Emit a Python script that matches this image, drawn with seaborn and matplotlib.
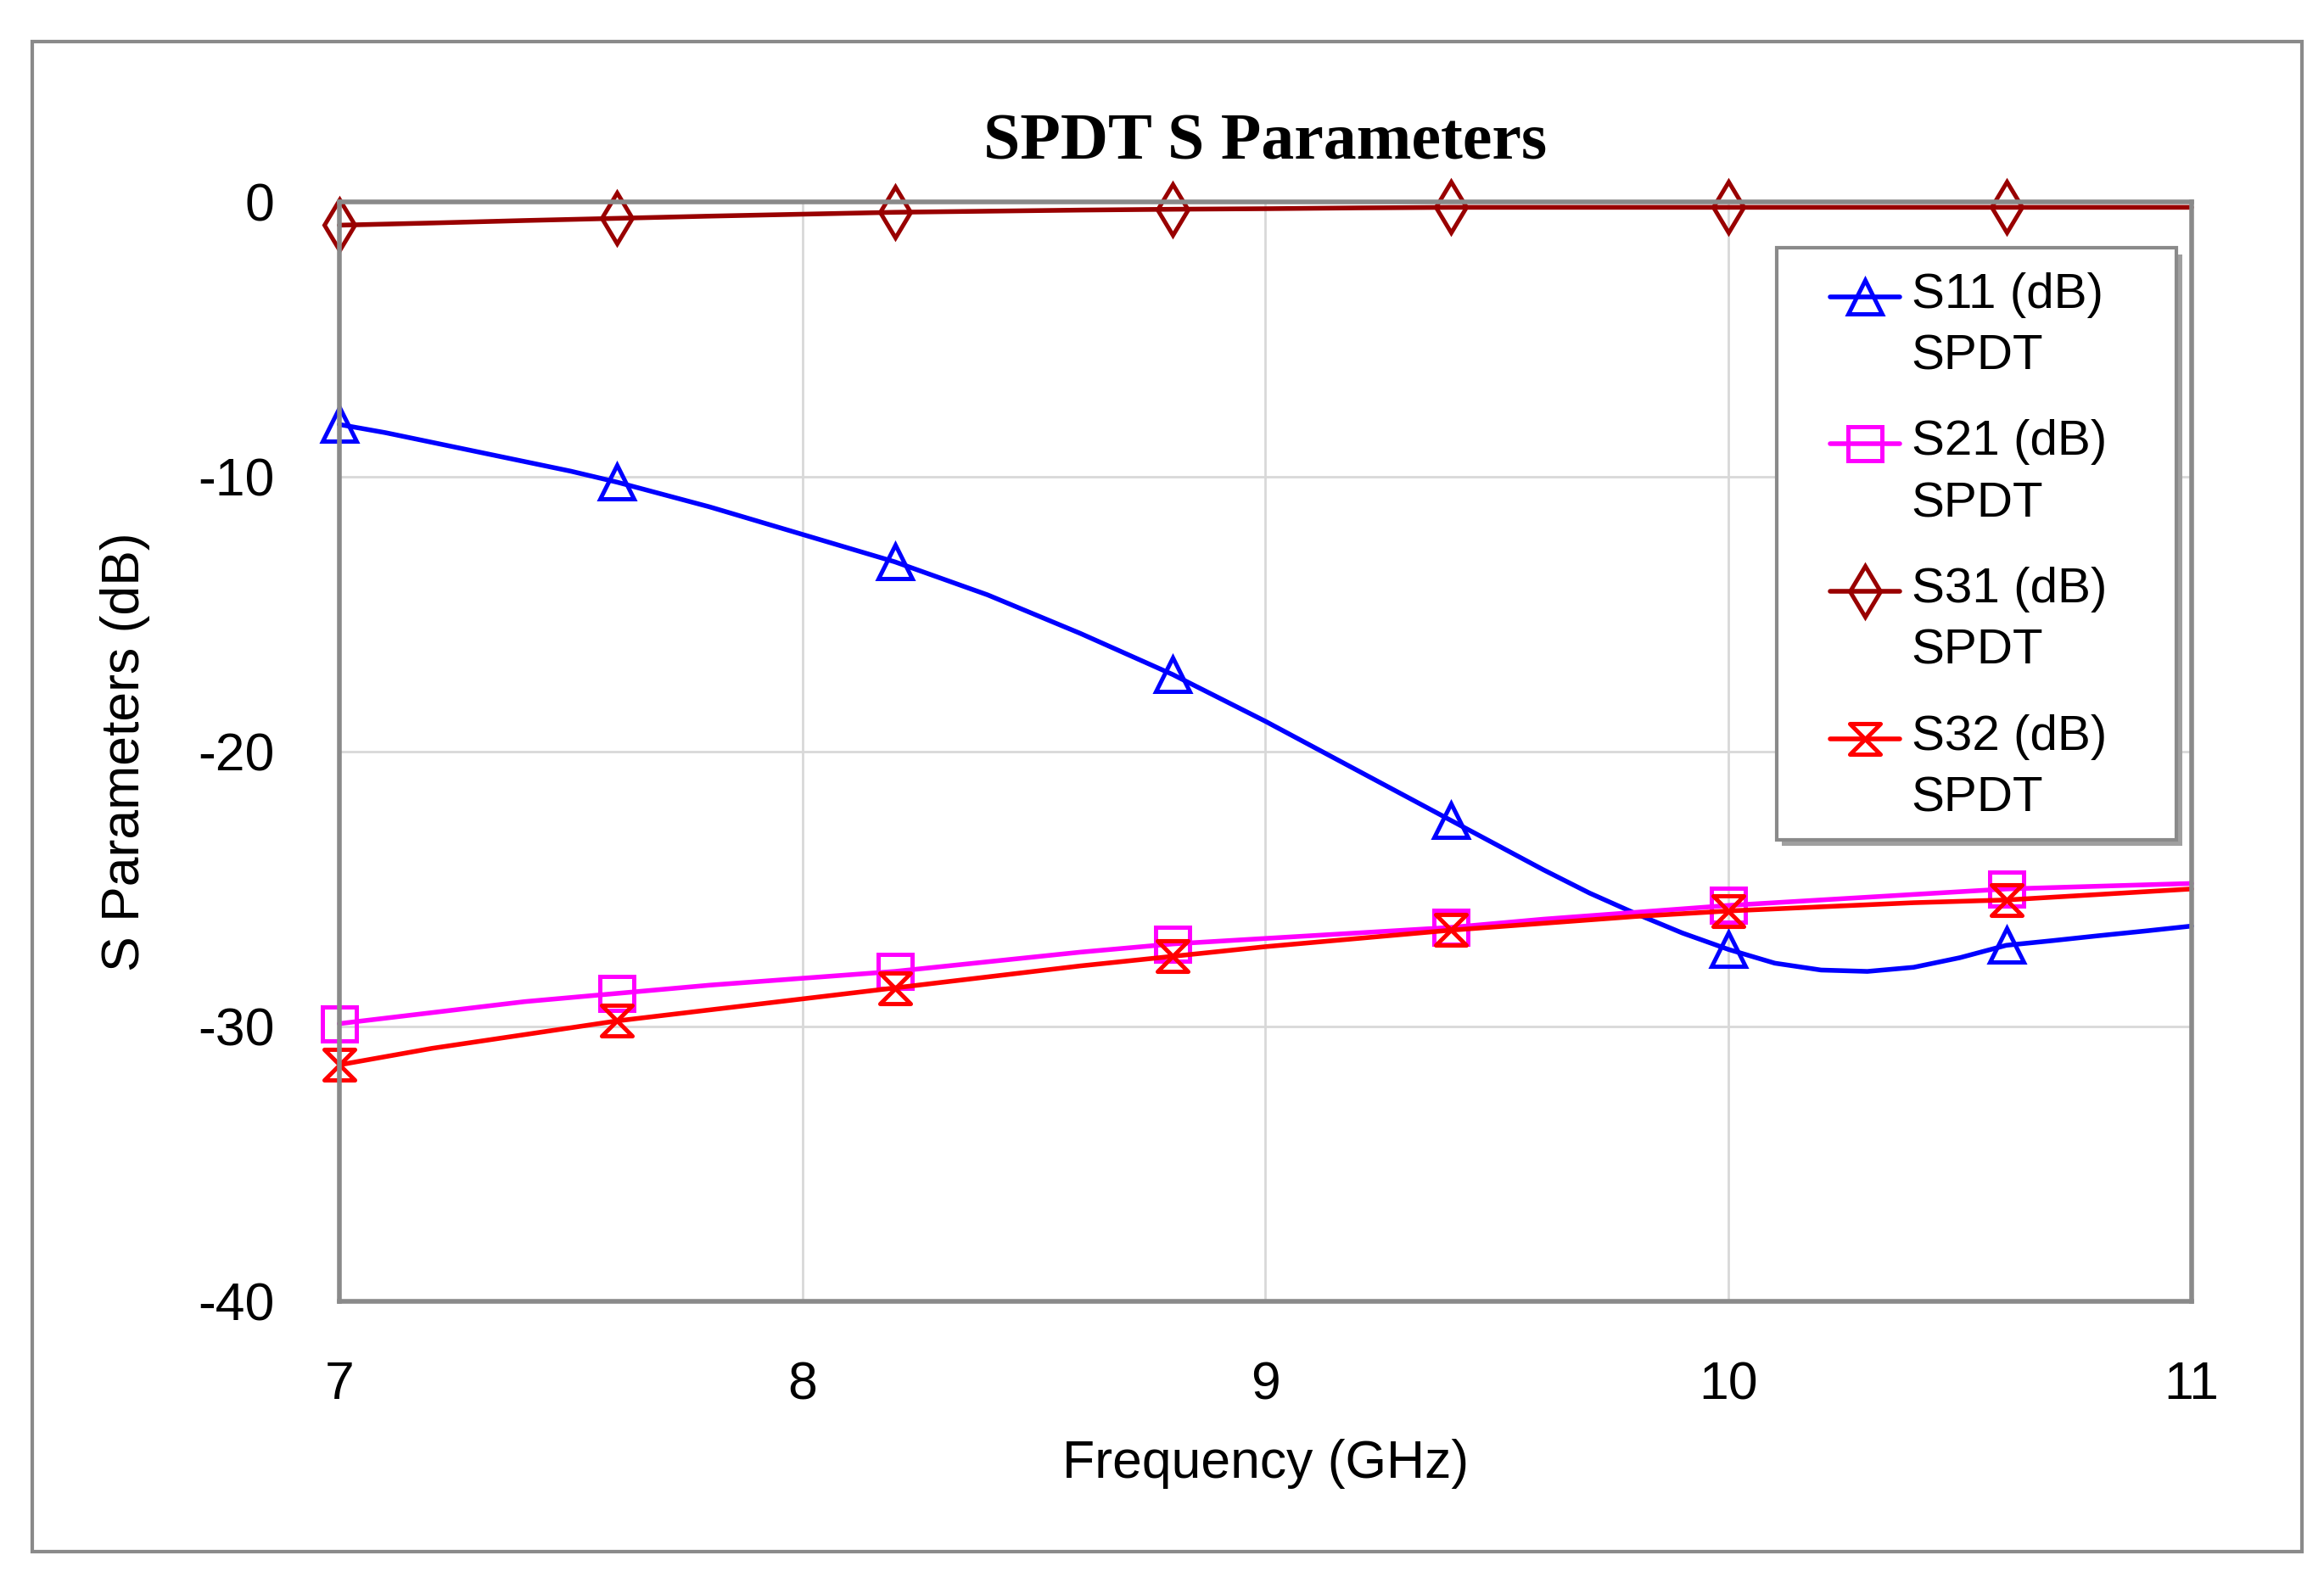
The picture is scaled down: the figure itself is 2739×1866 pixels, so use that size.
import numpy as np
import pandas as pd
import matplotlib
matplotlib.use('Agg')
import matplotlib.pyplot as plt
import seaborn as sns
from matplotlib.path import Path
from matplotlib.patches import Rectangle
from matplotlib.legend_handler import HandlerLine2D

sns.set_style("white")
plt.rcParams['font.family'] = ['Liberation Sans', 'DejaVu Sans']
plt.rcParams['axes.unicode_minus'] = False
plt.rcParams['text.color'] = 'black'
plt.rcParams['axes.labelcolor'] = 'black'

# ---------------------------------------------------------------------------
# Data
# ---------------------------------------------------------------------------
freq_fine = [7.0, 7.1, 7.2, 7.3, 7.4, 7.5, 7.6, 7.7, 7.8, 7.9, 8.0,
             8.1, 8.2, 8.3, 8.4, 8.5, 8.6, 8.7, 8.8, 8.9, 9.0,
             9.1, 9.2, 9.3, 9.4, 9.5, 9.6, 9.7, 9.8, 9.9, 10.0,
             10.1, 10.2, 10.3, 10.4, 10.5, 10.6, 10.7, 10.8, 10.9, 11.0]
s11 = [-8.1, -8.4, -8.75, -9.1, -9.45, -9.8, -10.2, -10.65, -11.1, -11.6, -12.1,
       -12.6, -13.1, -13.7, -14.3, -15.0, -15.7, -16.45, -17.2, -18.05, -18.9,
       -19.8, -20.7, -21.6, -22.5, -23.4, -24.3, -25.15, -25.9, -26.6, -27.2,
       -27.7, -27.95, -28.0, -27.85, -27.5, -27.05, -26.88, -26.7, -26.53, -26.35]

freq = [7.0, 7.2, 7.4, 7.6, 7.8, 8.0, 8.2, 8.4, 8.6, 8.8, 9.0,
        9.2, 9.4, 9.6, 9.8, 10.0, 10.2, 10.4, 10.6, 10.8, 11.0]
s21 = [-29.9, -29.5, -29.1, -28.8, -28.5, -28.25, -28.0, -27.65, -27.3, -27.0, -26.8,
       -26.6, -26.4, -26.1, -25.85, -25.6, -25.4, -25.2, -25.0, -24.9, -24.8]
s31 = [-0.85, -0.77, -0.68, -0.6, -0.52, -0.45, -0.38, -0.34, -0.3, -0.27, -0.25,
       -0.22, -0.2, -0.2, -0.2, -0.2, -0.2, -0.2, -0.2, -0.2, -0.2]
s32 = [-31.4, -30.8, -30.3, -29.8, -29.4, -29.0, -28.6, -28.2, -27.8, -27.45, -27.1,
       -26.8, -26.5, -26.25, -26.0, -25.8, -25.65, -25.5, -25.4, -25.2, -25.0]

series_labels = ['S11 (dB)\nSPDT', 'S21 (dB)\nSPDT', 'S31 (dB)\nSPDT', 'S32 (dB)\nSPDT']
x_ticks = [7, 8, 9, 10, 11]
y_ticks = [0, -10, -20, -30, -40]

# hourglass marker for S32
hourglass = Path([(-1, 1), (1, 1), (-1, -1), (1, -1), (-1, 1)],
                 [Path.MOVETO, Path.LINETO, Path.LINETO, Path.LINETO, Path.CLOSEPOLY])

# (x, y, colour, marker, markersize, markevery)
styles = [
    (freq_fine, s11, '#0000FF', '^', 29, 6),
    (freq, s21, '#FF00FF', 's', 29, 3),
    (freq, s31, '#990000', 'd', 31, 3),
    (freq, s32, '#FF0000', hourglass, 26, 3),
]


class TopHandler(HandlerLine2D):
    """Line handle aligned with the first text line of a two-line label."""
    def create_artists(self, legend, orig_handle, xdescent, ydescent,
                       width, height, fontsize, trans):
        return super().create_artists(legend, orig_handle, xdescent,
                                      ydescent - 1.2 * fontsize,
                                      width, height, fontsize, trans)


# ---------------------------------------------------------------------------
# Plot
# ---------------------------------------------------------------------------
fig = plt.figure(figsize=(27.39, 18.66), dpi=100)
ax = fig.add_axes([0.146, 0.178, 0.797, 0.6945])

for (xs, vals, col, mk, ms, me), lab in zip(styles, series_labels):
    df = pd.DataFrame({'freq': xs, 'val': vals})
    sns.lineplot(data=df, x='freq', y='val', ax=ax, color=col, linewidth=4,
                 marker=mk, markersize=ms,
                 markerfacecolor='none', markeredgecolor=col, markeredgewidth=3.6,
                 markevery=me, label=lab, clip_on=False)

ax.set_xlim(7, 11)
ax.set_ylim(-40, 0)
ax.set_xticks(x_ticks)
ax.set_yticks(y_ticks)
ax.tick_params(axis='both', length=0, labelsize=45, colors='black')
ax.tick_params(axis='x', pad=50)
ax.tick_params(axis='y', pad=55)
ax.grid(True, color='#d8d8d8', linewidth=2)
for sp in ax.spines.values():
    sp.set_color('#8a8a8a')
    sp.set_linewidth(4)

ax.set_xlabel('Frequency (GHz)', fontsize=45, labelpad=24)
ax.set_ylabel('S Parameters (dB)', fontsize=45, labelpad=40)
ax.set_title('SPDT S Parameters', fontsize=56, fontweight='bold', color='black',
             family=['Liberation Serif', 'DejaVu Serif'], pad=36)

# legend without its own frame; frame + shadow drawn separately
handles, labels = ax.get_legend_handles_labels()
leg = ax.legend(handles, labels, loc='upper left', bbox_to_anchor=(0.805, 0.936),
                fontsize=42, frameon=False, labelspacing=0.8, handlelength=1.4,
                handletextpad=0.24, borderpad=0, borderaxespad=0,
                handler_map={h: TopHandler() for h in handles})
for t in leg.get_texts():
    t.set_linespacing(1.45)
    t.set_color('black')

lx0, ly0, lw, lh = 0.776, 0.42, 0.216, 0.538
ax.add_patch(Rectangle((lx0 + 0.003, ly0 - 0.006), lw, lh, transform=ax.transAxes,
                       facecolor='#a0a0a0', edgecolor='none', zorder=4, clip_on=False))
ax.add_patch(Rectangle((lx0, ly0), lw, lh, transform=ax.transAxes,
                       facecolor='white', edgecolor='#8a8a8a', linewidth=3,
                       zorder=4.5, clip_on=False))
leg.set_zorder(6)

# outer chart border
fig.patches.append(Rectangle((0.014, 0.0198), 0.9765, 0.954, transform=fig.transFigure,
                             fill=False, edgecolor='#8a8a8a', linewidth=3))

plt.savefig('out.png', dpi=100)
